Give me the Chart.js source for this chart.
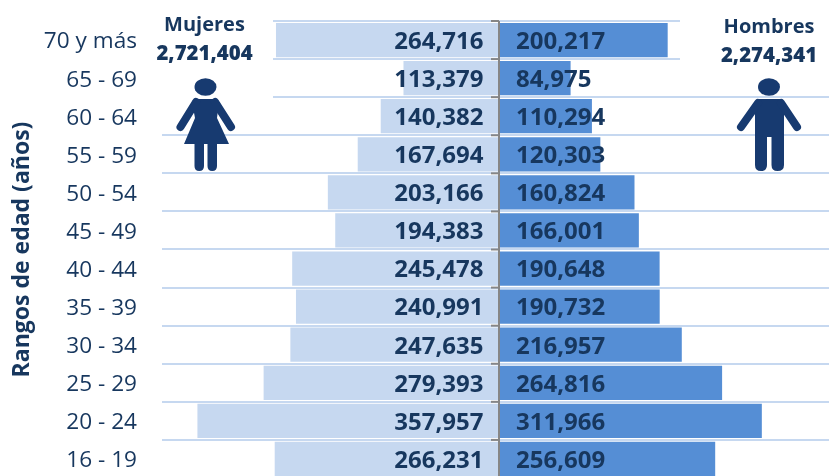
<!DOCTYPE html>
<html lang="es">
<head>
<meta charset="utf-8">
<script src="https://cdn.jsdelivr.net/npm/chart.js@4"></script>
<style>
html,body{margin:0;padding:0;width:829px;height:476px;overflow:hidden;background:#fff}
#wrap{position:relative;width:829px;height:476px;overflow:hidden}
canvas{position:absolute;left:0;top:0}
.t{position:absolute;font:700 20px "Open Sans",sans-serif;color:#17375e;text-align:center;line-height:29px;white-space:nowrap;transform:translateX(-50%)}
.t b{font-size:20.4px}
svg{position:absolute;left:0;top:0}
</style>
</head>
<body>
<div id="wrap">
<canvas id="c" width="836" height="490"></canvas>
<svg width="829" height="476" fill="#173a70" stroke="#173a70">
  <g>
    <ellipse cx="205.500" cy="87" rx="11" ry="8.800" stroke="none"/>
    <path stroke="none" d="M196 99 H215 Q218 99 219 102 L217 118 L229 144 H184 L195 118 L192 102 Q193 99 196 99Z"/>
    <path fill="none" stroke-width="8" stroke-linecap="round" d="M196 102 L180.500 127 M215 102 L231 127"/>
    <path stroke="none" d="M194.500 142 H204 V166 Q204 171 199.200 171 Q194.500 171 194.500 166Z M207.500 142 H217 V166 Q217 171 212.200 171 Q207.500 171 207.500 166Z"/>
  </g>
  <g>
    <ellipse cx="769" cy="87" rx="11" ry="8.800" stroke="none"/>
    <path stroke="none" d="M759 99 H780 Q784 99 784 104 V137 H755 V104 Q755 99 759 99Z"/>
    <path stroke="none" d="M755 135 H767 V165 Q767 171 761 171 Q755 171 755 165Z M771.500 135 H784 V165 Q784 171 777.500 171 Q771.500 171 771.500 165Z"/>
    <path fill="none" stroke-width="8" stroke-linecap="round" d="M758 103 L741 127 M781 103 L797 127"/>
  </g>
</svg>
<div class="t" style="left:204.500px;top:9px" id="tW"></div>
<div class="t" style="left:769px;top:11px" id="tM"></div>
</div>
<script>
const categories = ['70 y más','65 - 69','60 - 64','55 - 59','50 - 54','45 - 49','40 - 44','35 - 39','30 - 34','25 - 29','20 - 24','16 - 19'];
const mujeres = [264716,113379,140382,167694,203166,194383,245478,240991,247635,279393,357957,266231];
const hombres = [200217,84975,110294,120303,160824,166001,190648,190732,216957,264816,311966,256609];
const totalMujeres = 2721404;
const totalHombres = 2274341;
const axisTitle = 'Rangos de edad (años)';
const fmt = v => Math.abs(v).toLocaleString('en-US');
document.getElementById('tW').innerHTML = 'Mujeres<br><b>' + fmt(totalMujeres) + '</b>';
document.getElementById('tM').innerHTML = 'Hombres<br><b>' + fmt(totalHombres) + '</b>';

const navy = '#17375e';
const pyramid = {
  id:'pyramid',
  beforeDatasetsDraw(chart){
    const g = chart.ctx;
    g.save(); g.fillStyle='#fff';
    g.fillRect(150,0,123,105);
    g.fillRect(680,0,160,90);
    g.restore();
  },
  afterDatasetsDraw(chart){
    const g = chart.ctx, x = chart.scales.x, x0 = x.getPixelForValue(0);
    g.save();
    g.strokeStyle='#868686'; g.lineWidth=2;
    g.beginPath(); g.moveTo(x0,chart.chartArea.top); g.lineTo(x0,chart.chartArea.bottom); g.stroke();
    for(let i=0;i<=categories.length;i++){
      const p = chart.chartArea.top + i*chart.chartArea.height/categories.length;
      g.beginPath(); g.moveTo(x0-8,p); g.lineTo(x0,p); g.stroke();
    }
    g.font='700 24px "Open Sans",sans-serif'; g.fillStyle=navy; g.textBaseline='middle';
    chart.data.datasets.forEach((ds,di)=>{
      chart.getDatasetMeta(di).data.forEach((bar,i)=>{
        g.textAlign = di===0 ? 'right' : 'left';
        g.fillText(fmt(ds.data[i]), x0 + (di===0 ? -15.500 : 17), bar.y+2);
      });
    });
    g.restore();
  }
};

new Chart(document.getElementById('c'),{
  type:'bar',
  plugins:[pyramid],
  data:{labels:categories,datasets:[
    {label:'Mujeres',data:mujeres.map(v=>-v),backgroundColor:'#c6d8f0',stack:'a'},
    {label:'Hombres',data:hombres,backgroundColor:'#558ed5',stack:'a'}
  ]},
  options:{
    indexAxis:'y',responsive:false,animation:false,
    layout:{padding:{top:21,bottom:12,left:0,right:0}},
    datasets:{bar:{barPercentage:0.9,categoryPercentage:1}},
    plugins:{legend:{display:false},title:{display:false},tooltip:{enabled:false}},
    scales:{
      x:{display:false,stacked:true,min:-400000,max:400000},
      y:{stacked:true,
        afterFit(s){s.width=162;s.paddingTop=0;s.paddingBottom=0;},
        grid:{drawTicks:false,color:'#c6d8f0',lineWidth:2,offset:true},
        border:{display:false},
        ticks:{color:navy,padding:25,autoSkip:false,labelOffset:2,font:{family:'"Open Sans",sans-serif',size:22.6}},
        title:{display:true,text:axisTitle,color:navy,padding:{top:9,bottom:0},font:{family:'"Open Sans",sans-serif',size:23,weight:'700'}}
      }
    }
  }
});
</script>
</body>
</html>
